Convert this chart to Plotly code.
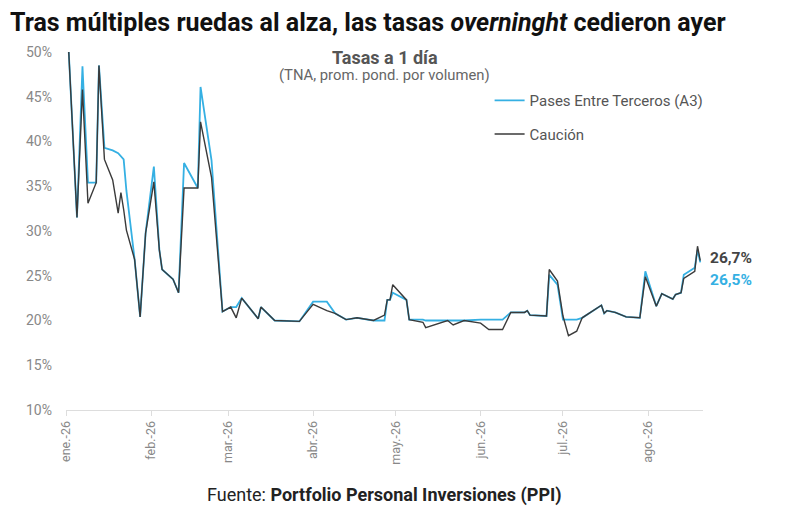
import plotly.graph_objects as go

# tasas a 1 dia (TNA %)
fechas = ["2026-01-02", "2026-01-05", "2026-01-07", "2026-01-09", "2026-01-12", "2026-01-13",
          "2026-01-15", "2026-01-18", "2026-01-20", "2026-01-21", "2026-01-22", "2026-01-23",
          "2026-01-26", "2026-01-28", "2026-01-30", "2026-02-02", "2026-02-04", "2026-02-05",
          "2026-02-09", "2026-02-11", "2026-02-13", "2026-02-18", "2026-02-19", "2026-02-23",
          "2026-02-27", "2026-03-02", "2026-03-04", "2026-03-06", "2026-03-12", "2026-03-13",
          "2026-03-18", "2026-03-27", "2026-04-01", "2026-04-06", "2026-04-09", "2026-04-13",
          "2026-04-17", "2026-04-23", "2026-04-27", "2026-04-28", "2026-04-29", "2026-04-30",
          "2026-05-05", "2026-05-06", "2026-05-11", "2026-05-12", "2026-05-20", "2026-05-22",
          "2026-05-26", "2026-06-01", "2026-06-04", "2026-06-09", "2026-06-12", "2026-06-17",
          "2026-06-18", "2026-06-19", "2026-06-25", "2026-06-26", "2026-06-29", "2026-07-01",
          "2026-07-03", "2026-07-06", "2026-07-08", "2026-07-15", "2026-07-16", "2026-07-17",
          "2026-07-20", "2026-07-24", "2026-07-29", "2026-07-31", "2026-08-04", "2026-08-06",
          "2026-08-10", "2026-08-11", "2026-08-13", "2026-08-14", "2026-08-18", "2026-08-19",
          "2026-08-20"]

pases_a3 = [50.0, 31.5, 48.4, 35.4, 35.4, 48.5,
            39.3, 39.0, 38.7, 38.3, 38.0, 34.5,
            26.8, 20.4, 29.8, 37.2, 27.9, 25.7,
            24.6, 23.1, 37.6, 34.8, 46.1, 37.9,
            21.0, 21.5, 21.5, 22.5, 20.2, 21.5,
            20.0, 19.9, 22.1, 22.1, 20.8, 20.1,
            20.3, 20.0, 20.0, 22.3, 22.3, 23.1,
            22.3, 20.1, 20.1, 20.0, 20.0, 20.0,
            20.0, 20.1, 20.1, 20.1, 20.9, 20.9,
            21.1, 20.6, 20.5, 25.1, 24.0, 20.1,
            20.1, 20.1, 20.3, 21.7, 20.8, 21.1,
            20.9, 20.4, 20.3, 25.5, 21.6, 23.0,
            22.4, 22.9, 23.1, 25.1, 25.9, 27.9,
            26.5]

caucion = [50.0, 31.5, 45.8, 33.1, 35.4, 48.5,
           38.0, 35.7, 32.0, 34.3, 32.4, 30.1,
           26.8, 20.4, 29.8, 35.5, 27.9, 25.7,
           24.6, 23.1, 34.8, 34.8, 42.2, 36.0,
           21.0, 21.5, 20.3, 22.5, 20.2, 21.5,
           20.0, 19.9, 21.8, 21.1, 20.8, 20.1,
           20.3, 20.0, 20.6, 22.3, 22.3, 24.0,
           22.3, 20.1, 19.8, 19.2, 20.0, 19.5,
           20.0, 19.7, 19.0, 19.0, 20.9, 20.9,
           21.1, 20.6, 20.5, 25.7, 24.4, 20.5,
           18.3, 18.8, 20.3, 21.7, 20.8, 21.1,
           20.9, 20.4, 20.3, 24.9, 21.6, 23.0,
           22.4, 22.9, 23.1, 24.7, 25.5, 28.3,
           26.7]

meses = ["2026-01-01", "2026-02-01", "2026-03-01", "2026-04-01",
         "2026-05-01", "2026-06-01", "2026-07-01", "2026-08-01"]
meses_txt = ["ene.-26", "feb.-26", "mar.-26", "abr.-26",
             "may.-26", "jun.-26", "jul.-26", "ago.-26"]

azul = "#35b0e3"
negro = "#3a3a3a"

fig = go.Figure()
fig.add_trace(go.Scatter(x=fechas, y=pases_a3, mode="lines", name="Pases Entre Terceros (A3)",
                         line=dict(color=azul, width=1.8), legendgroup="a3"))
fig.add_trace(go.Scatter(x=fechas, y=caucion, mode="lines", name="Caución",
                         line=dict(color=negro, width=1.4), legendgroup="cau"))

# etiquetas del ultimo dato
fig.add_annotation(x=fechas[-1], y=caucion[-1], text="<b>" + "{:.1f}".format(caucion[-1]).replace(".", ",") + "%</b>",
                   showarrow=False, xanchor="left", xshift=8, yshift=3,
                   font=dict(size=15.5, color="#444444"))
fig.add_annotation(x=fechas[-1], y=pases_a3[-1], text="<b>" + "{:.1f}".format(pases_a3[-1]).replace(".", ",") + "%</b>",
                   showarrow=False, xanchor="left", xshift=8, yshift=-18,
                   font=dict(size=15.5, color=azul))

fig.add_annotation(xref="paper", yref="paper", x=0.5, y=1.0, yanchor="middle", yshift=-5,
                   text="<b>Tasas a 1 día</b>", showarrow=False,
                   font=dict(size=18, color="#555555"))
fig.add_annotation(xref="paper", yref="paper", x=0.5, y=1.0, yanchor="middle", yshift=-23,
                   text="(TNA, prom. pond. por volumen)", showarrow=False,
                   font=dict(size=14.8, color="#666666"))
fig.add_annotation(xref="paper", yref="paper", x=0.5, y=0, yanchor="middle", yshift=-85,
                   text="Fuente: <b>Portfolio Personal Inversiones (PPI)</b>", showarrow=False,
                   font=dict(size=18, color="#222222"))

fig.update_layout(
    width=800, height=514,
    margin=dict(l=58, r=105, t=44, b=112),
    paper_bgcolor="white", plot_bgcolor="white",
    font=dict(family="Roboto", color="#888888"),
    title=dict(text="<b>Tras múltiples ruedas al alza, las tasas <i>overninght</i> cedieron ayer</b>",
               x=0.0025, xanchor="left", y=0.972, yanchor="middle",
               font=dict(size=25, color="#111111", family="Roboto")),
    legend=dict(x=0.665, y=0.91, xanchor="left", yanchor="top", tracegroupgap=11,
                bgcolor="rgba(0,0,0,0)", font=dict(size=15, color="#555555")),
)
fig.update_xaxes(range=["2026-01-01", "2026-08-21"], tickvals=meses, ticktext=meses_txt,
                 tickangle=-90, showgrid=False, showline=True, linecolor="#dddddd",
                 ticks="outside", ticklen=5, tickcolor="#dddddd",
                 tickfont=dict(size=12.5, color="#888888"), zeroline=False)
fig.update_yaxes(range=[10, 50], dtick=5, ticksuffix="%", showgrid=False, zeroline=False,
                 showline=False, ticklabelstandoff=13, tickfont=dict(size=14, color="#888888"))

fig.write_html("out.html")
